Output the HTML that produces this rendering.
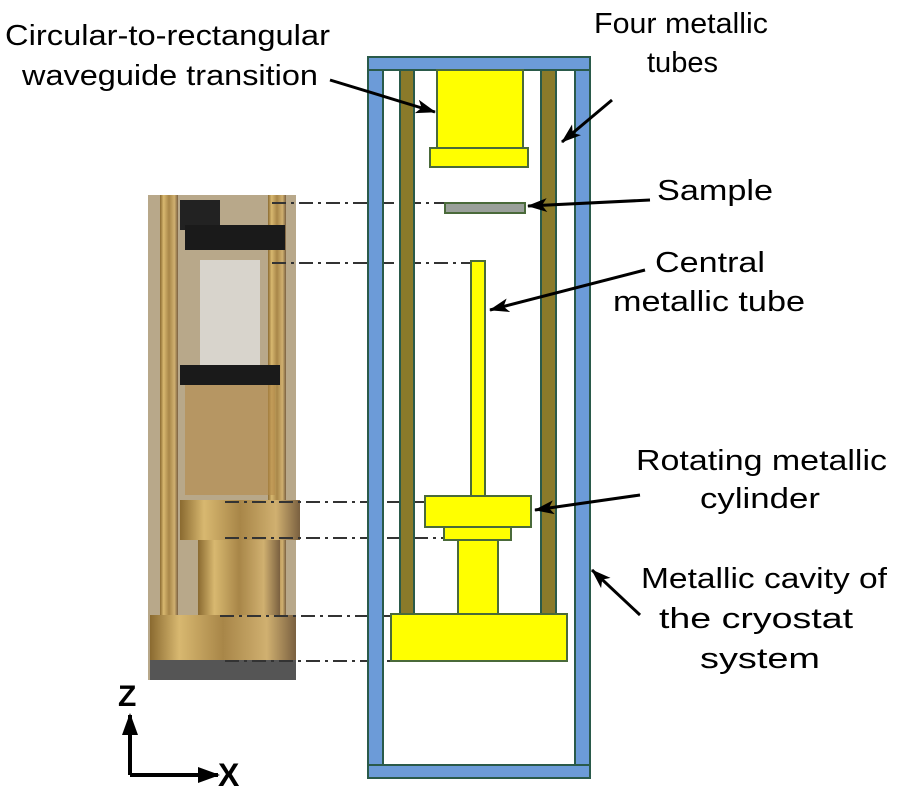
<!DOCTYPE html>
<html><head><style>
body{margin:0;width:900px;height:800px;background:#fff;overflow:hidden;font-family:"Liberation Sans",sans-serif}
</style></head><body>
<svg width="900" height="800" xmlns="http://www.w3.org/2000/svg">
<defs>
<linearGradient id="br" x1="0" x2="1">
<stop offset="0" stop-color="#8a6a30"/><stop offset="0.2" stop-color="#d8b870"/><stop offset="0.5" stop-color="#a88648"/><stop offset="0.8" stop-color="#d0b070"/><stop offset="1" stop-color="#7a6040"/></linearGradient>
<marker id="ah" markerWidth="20" markerHeight="14" refX="19" refY="7" orient="auto" markerUnits="userSpaceOnUse" viewBox="0 0 20 14"><path d="M0,0 L20,7 L0,14 L5,7z" fill="#000"/></marker>
<marker id="ah2" markerWidth="22" markerHeight="16" refX="20" refY="8" orient="auto" markerUnits="userSpaceOnUse" viewBox="0 0 22 16"><path d="M0,0 L22,8 L0,16z" fill="#000"/></marker>
</defs>
<!-- photo -->
<rect x="148" y="195" width="148" height="485" fill="#b8a88a"/>
<rect x="160" y="195" width="18" height="485" fill="url(#br)"/>
<rect x="268" y="195" width="18" height="485" fill="url(#br)"/>
<rect x="180" y="200" width="40" height="30" fill="#222"/>
<rect x="185" y="225" width="100" height="25" fill="#1a1a1a"/>
<rect x="200" y="260" width="60" height="110" fill="#d8d4cc"/>
<rect x="180" y="365" width="100" height="20" fill="#1a1a1a"/>
<rect x="185" y="385" width="90" height="110" fill="#b48a4a" opacity="0.6"/>
<rect x="180" y="500" width="120" height="40" fill="url(#br)"/>
<rect x="198" y="540" width="82" height="80" fill="url(#br)"/>
<rect x="150" y="615" width="146" height="50" fill="url(#br)"/>
<rect x="150" y="660" width="146" height="20" fill="#555"/>
<!-- dash lines -->
<g stroke="#333" stroke-width="2" stroke-dasharray="14,5,3,5" fill="none">
<line x1="272" y1="203" x2="445" y2="203"/>
<line x1="272" y1="263" x2="471" y2="263"/>
<line x1="225" y1="502" x2="425" y2="502"/>
<line x1="225" y1="538" x2="444" y2="538"/>
<line x1="220" y1="616" x2="391" y2="616"/>
<line x1="225" y1="661" x2="485" y2="661"/>
</g>
<!-- cavity -->
<g stroke="#2a5a4a" stroke-width="2">
<rect x="368" y="57" width="222" height="13" fill="#6c9bd8"/>
<rect x="368" y="70" width="15" height="695" fill="#6c9bd8"/>
<rect x="575" y="70" width="15" height="695" fill="#6c9bd8"/>
<rect x="368" y="765" width="222" height="13" fill="#6c9bd8"/>
<rect x="400" y="70" width="14" height="544" fill="#8a7a2a"/>
<rect x="541" y="70" width="15" height="544" fill="#8a7a2a"/>
</g>
<g stroke="#4a6a3a" stroke-width="2" fill="#ffff00">
<rect x="437" y="70" width="86" height="78"/>
<rect x="430" y="148" width="98" height="19"/>
<rect x="445" y="203" width="80" height="10" fill="#9aa09a"/>
<rect x="471" y="261" width="14" height="236"/>
<rect x="458" y="540" width="40" height="74"/>
<rect x="425" y="496" width="106" height="31"/>
<rect x="444" y="527" width="67" height="13"/>
<rect x="391" y="614" width="176" height="47"/>
</g>
<!-- arrows -->
<g stroke="#000" stroke-width="3" marker-end="url(#ah)">
<line x1="330" y1="80" x2="435" y2="112"/>
<line x1="612" y1="100" x2="562" y2="142"/>
<line x1="650" y1="200" x2="528" y2="206"/>
<line x1="645" y1="270" x2="490" y2="310"/>
<line x1="640" y1="495" x2="535" y2="510"/>
<line x1="640" y1="615" x2="592" y2="570"/>
</g>
<g font-size="29" fill="#000" lengthAdjust="spacingAndGlyphs">
<text x="5" y="45" textLength="325" lengthAdjust="spacingAndGlyphs">Circular-to-rectangular</text>
<text x="22" y="85" textLength="296" lengthAdjust="spacingAndGlyphs">waveguide transition</text>
<text x="594" y="33" textLength="174" lengthAdjust="spacingAndGlyphs">Four metallic</text>
<text x="647" y="72" textLength="71" lengthAdjust="spacingAndGlyphs">tubes</text>
<text x="657" y="200" textLength="116" lengthAdjust="spacingAndGlyphs">Sample</text>
<text x="655" y="272" textLength="110" lengthAdjust="spacingAndGlyphs">Central</text>
<text x="613" y="311" textLength="192" lengthAdjust="spacingAndGlyphs">metallic tube</text>
<text x="636" y="470" textLength="251" lengthAdjust="spacingAndGlyphs">Rotating metallic</text>
<text x="700" y="508" textLength="120" lengthAdjust="spacingAndGlyphs">cylinder</text>
<text x="641" y="588" textLength="246" lengthAdjust="spacingAndGlyphs">Metallic cavity of</text>
<text x="659" y="628" textLength="194" lengthAdjust="spacingAndGlyphs">the cryostat</text>
<text x="700" y="668" textLength="120" lengthAdjust="spacingAndGlyphs">system</text>
</g>
<!-- axes -->
<g stroke="#000" stroke-width="4">
<line x1="130" y1="775" x2="130" y2="715" marker-end="url(#ah2)"/>
<line x1="130" y1="775" x2="218" y2="775" marker-end="url(#ah2)"/>
</g>
<text x="118" y="706" font-size="30" font-weight="bold">Z</text>
<text x="218" y="786" font-size="32" font-weight="bold">X</text>
</svg>
</body></html>
